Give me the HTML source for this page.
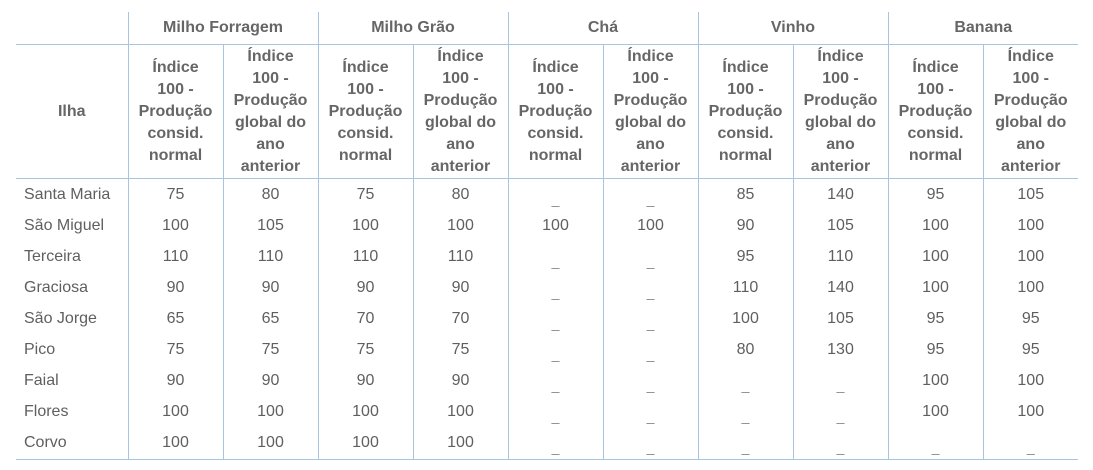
<!DOCTYPE html>
<html><head><meta charset="utf-8"><style>
body{margin:0;background:#fff;width:1093px;height:470px;overflow:hidden;font-family:"Liberation Sans",sans-serif;}
table{position:absolute;left:16px;top:12px;border-collapse:collapse;table-layout:fixed;}
td,th{padding:0;text-align:center;color:#5f5f5f;font-size:16px;}
th{font-weight:bold;color:#666;line-height:22px;}
.v{border-left:1px solid #a9c4e0;}
tr.h1 th{height:32px;border-bottom:1px solid #a9c4e0;}
tr.h2 th{height:133px;border-bottom:1px solid #a9c4e0;}
tr.d td{height:31.1px;}
tr.last td{border-bottom:1px solid #a9c4e0;}
td.il{text-align:left;padding-left:8px;}
.ds{color:#888;font-size:14px;position:relative;top:5px;}
</style></head><body>
<table>
<colgroup><col style="width:112px"><col style="width:95px"><col style="width:95px"><col style="width:95px"><col style="width:95px"><col style="width:95px"><col style="width:95px"><col style="width:95px"><col style="width:95px"><col style="width:95px"><col style="width:95px"></colgroup>
<tr class="h1"><th></th><th class="v" colspan="2">Milho Forragem</th><th class="v" colspan="2">Milho Grão</th><th class="v" colspan="2">Chá</th><th class="v" colspan="2">Vinho</th><th class="v" colspan="2">Banana</th></tr>
<tr class="h2"><th>Ilha</th>
<th class="v">Índice<br>100 -<br>Produção<br>consid.<br>normal</th><th class="v">Índice<br>100 -<br>Produção<br>global do<br>ano<br>anterior</th>
<th class="v">Índice<br>100 -<br>Produção<br>consid.<br>normal</th><th class="v">Índice<br>100 -<br>Produção<br>global do<br>ano<br>anterior</th>
<th class="v">Índice<br>100 -<br>Produção<br>consid.<br>normal</th><th class="v">Índice<br>100 -<br>Produção<br>global do<br>ano<br>anterior</th>
<th class="v">Índice<br>100 -<br>Produção<br>consid.<br>normal</th><th class="v">Índice<br>100 -<br>Produção<br>global do<br>ano<br>anterior</th>
<th class="v">Índice<br>100 -<br>Produção<br>consid.<br>normal</th><th class="v">Índice<br>100 -<br>Produção<br>global do<br>ano<br>anterior</th></tr>
<tr class="d"><td class="il">Santa Maria</td><td class="v">75</td><td class="v">80</td><td class="v">75</td><td class="v">80</td><td class="v"><span class="ds">_</span></td><td class="v"><span class="ds">_</span></td><td class="v">85</td><td class="v">140</td><td class="v">95</td><td class="v">105</td></tr>
<tr class="d"><td class="il">São Miguel</td><td class="v">100</td><td class="v">105</td><td class="v">100</td><td class="v">100</td><td class="v">100</td><td class="v">100</td><td class="v">90</td><td class="v">105</td><td class="v">100</td><td class="v">100</td></tr>
<tr class="d"><td class="il">Terceira</td><td class="v">110</td><td class="v">110</td><td class="v">110</td><td class="v">110</td><td class="v"><span class="ds">_</span></td><td class="v"><span class="ds">_</span></td><td class="v">95</td><td class="v">110</td><td class="v">100</td><td class="v">100</td></tr>
<tr class="d"><td class="il">Graciosa</td><td class="v">90</td><td class="v">90</td><td class="v">90</td><td class="v">90</td><td class="v"><span class="ds">_</span></td><td class="v"><span class="ds">_</span></td><td class="v">110</td><td class="v">140</td><td class="v">100</td><td class="v">100</td></tr>
<tr class="d"><td class="il">São Jorge</td><td class="v">65</td><td class="v">65</td><td class="v">70</td><td class="v">70</td><td class="v"><span class="ds">_</span></td><td class="v"><span class="ds">_</span></td><td class="v">100</td><td class="v">105</td><td class="v">95</td><td class="v">95</td></tr>
<tr class="d"><td class="il">Pico</td><td class="v">75</td><td class="v">75</td><td class="v">75</td><td class="v">75</td><td class="v"><span class="ds">_</span></td><td class="v"><span class="ds">_</span></td><td class="v">80</td><td class="v">130</td><td class="v">95</td><td class="v">95</td></tr>
<tr class="d"><td class="il">Faial</td><td class="v">90</td><td class="v">90</td><td class="v">90</td><td class="v">90</td><td class="v"><span class="ds">_</span></td><td class="v"><span class="ds">_</span></td><td class="v"><span class="ds">_</span></td><td class="v"><span class="ds">_</span></td><td class="v">100</td><td class="v">100</td></tr>
<tr class="d"><td class="il">Flores</td><td class="v">100</td><td class="v">100</td><td class="v">100</td><td class="v">100</td><td class="v"><span class="ds">_</span></td><td class="v"><span class="ds">_</span></td><td class="v"><span class="ds">_</span></td><td class="v"><span class="ds">_</span></td><td class="v">100</td><td class="v">100</td></tr>
<tr class="d last"><td class="il">Corvo</td><td class="v">100</td><td class="v">100</td><td class="v">100</td><td class="v">100</td><td class="v"><span class="ds">_</span></td><td class="v"><span class="ds">_</span></td><td class="v"><span class="ds">_</span></td><td class="v"><span class="ds">_</span></td><td class="v"><span class="ds">_</span></td><td class="v"><span class="ds">_</span></td></tr>
</table>
</body></html>
